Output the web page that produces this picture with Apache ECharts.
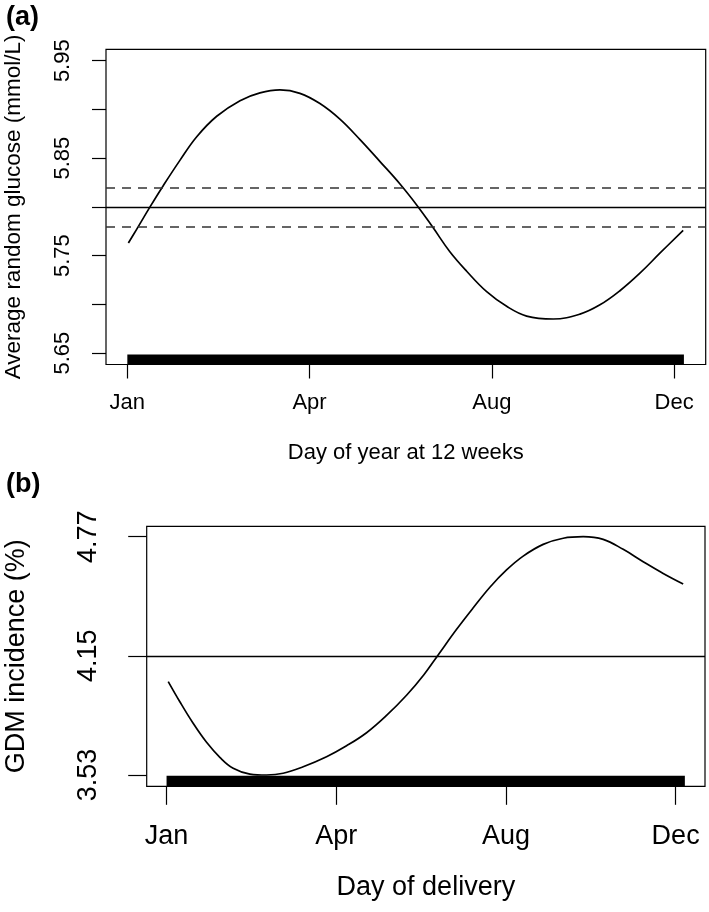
<!DOCTYPE html>
<html>
  <head>
    <meta charset="utf-8">
    <title>Seasonal glucose and GDM</title>
    <style>
      html, body { margin: 0; padding: 0; background: #fff; }
      #chart { width: 709px; height: 912px; }
    </style>
  </head>
  <body>
    <div id="chart"></div>
    <script src="https://cdn.jsdelivr.net/npm/echarts@6/dist/echarts.min.js"></script>
    <script>
      // month ticks (day of year) shared by both panels
      var monthTicks = [1, 122.3, 243.7, 365];
      var monthLabels = ['Jan', 'Apr', 'Aug', 'Dec'];

      // (a) average random glucose by day of year at 12 weeks
      var glucoseDays = [1.7, 7.2, 16.1, 25.0, 36.1, 47.2, 60.5, 76.0, 89.3, 102.6, 115.9, 129.2, 142.5, 155.9, 169.2,
        182.5, 194.6, 204.6, 215.7, 226.9, 240.2, 253.5, 266.8, 284.5, 302.3, 315.6, 328.9, 342.2, 355.5, 371.0];
      var glucoseValues = [5.763, 5.777, 5.800, 5.822, 5.848, 5.872, 5.893, 5.909, 5.917, 5.920, 5.9165, 5.906, 5.890, 5.869, 5.8465,
        5.8235, 5.800, 5.7785, 5.754, 5.734, 5.713, 5.698, 5.688, 5.685, 5.690, 5.6995, 5.714, 5.732, 5.7525, 5.776];
      var glucoseMean = 5.80;
      var glucoseBand = [5.778, 5.822];
      var glucoseTicks = [5.65, 5.70, 5.75, 5.80, 5.85, 5.90, 5.95];
      var glucoseLabels = [5.65, 5.75, 5.85, 5.95];
      var glucoseRug = [1, 371.5];

      // (b) GDM incidence by day of delivery
      var gdmDays = [2.2, 10.5, 20.0, 29.6, 39.1, 48.6, 60.6, 72.5, 84.4, 98.7, 115.4, 129.7, 144.0, 158.3, 172.6,
        185.0, 195.2, 208.4, 220.3, 232.2, 244.1, 256.0, 270.3, 284.6, 298.9, 313.2, 327.5, 341.8, 356.1, 370.4];
      var gdmValues = [4.016, 3.911, 3.799, 3.700, 3.622, 3.565, 3.535, 3.530, 3.539, 3.573, 3.625, 3.682, 3.750, 3.840, 3.945,
        4.052, 4.155, 4.288, 4.400, 4.507, 4.597, 4.669, 4.730, 4.762, 4.770, 4.756, 4.704, 4.640, 4.579, 4.524];
      var gdmMean = 4.15;
      var gdmTicks = [3.53, 4.15, 4.77];
      var gdmRug = [1, 371.6];

      var FONT = '"Liberation Sans", Arial, Helvetica, sans-serif';

      function pairs(xs, ys) {
        return xs.map(function(x, i) { return [x, ys[i]]; });
      }

      function monthName(v) {
        var best = 0;
        monthTicks.forEach(function(t, i) {
          if (Math.abs(t - v) < Math.abs(monthTicks[best] - v)) best = i;
        });
        return monthLabels[best];
      }

      function xAxisFor(gridIndex, name, size, tickLen, margin, gap) {
        return {
          type: 'value', gridIndex: gridIndex, min: -13.2, max: 386,
          name: name, nameLocation: 'middle', nameGap: gap,
          nameTextStyle: { fontFamily: FONT, fontSize: size, color: '#000' },
          axisLine: { show: false, onZero: false },
          splitLine: { show: false },
          axisTick: { show: true, length: tickLen, customValues: monthTicks,
            lineStyle: { color: '#000', width: 1.2 } },
          axisLabel: { customValues: monthTicks, formatter: monthName, margin: margin,
            fontFamily: FONT, fontSize: size, color: '#000' }
        };
      }

      var chart = echarts.init(document.getElementById('chart'), null, { renderer: 'canvas' });

      chart.setOption({
        backgroundColor: '#fff',
        animation: false,
        title: [
          { text: '(a)', left: 1, top: -1, textStyle: { fontFamily: FONT, fontSize: 27, fontWeight: 'bold', color: '#000' } },
          { text: '(b)', left: 1, top: 466, textStyle: { fontFamily: FONT, fontSize: 27, fontWeight: 'bold', color: '#000' } }
        ],
        grid: [
          { left: 106, top: 49.3, width: 599.7, height: 315.2, outerBoundsMode: 'none', containLabel: false,
            show: true, borderColor: '#000', borderWidth: 1.2 },
          { left: 146.7, top: 526.3, width: 558.3, height: 260, outerBoundsMode: 'none', containLabel: false,
            show: true, borderColor: '#000', borderWidth: 1.2 }
        ],
        xAxis: [
          xAxisFor(0, 'Day of year at 12 weeks', 22, 14, 27, 77),
          xAxisFor(1, 'Day of delivery', 27, 18.5, 37, 88)
        ],
        yAxis: [
          {
            type: 'value', gridIndex: 0, min: 5.6383, max: 5.9617,
            name: 'Average random glucose (mmol/L)', nameLocation: 'middle', nameGap: 81, nameRotate: 90,
            nameTextStyle: { fontFamily: FONT, fontSize: 22.5, color: '#000' },
            axisLine: { show: false, onZero: false },
            splitLine: { show: false },
            axisTick: { show: true, length: 14, customValues: glucoseTicks, lineStyle: { color: '#000', width: 1.2 } },
            axisLabel: { customValues: glucoseLabels, rotate: 90, margin: 32,
              formatter: function(v) { return v.toFixed(2); },
              fontFamily: FONT, fontSize: 22, color: '#000' }
          },
          {
            type: 'value', gridIndex: 1, min: 3.4712, max: 4.824,
            name: 'GDM incidence (%)', nameLocation: 'middle', nameGap: 117, nameRotate: 90,
            nameTextStyle: { fontFamily: FONT, fontSize: 27, color: '#000' },
            axisLine: { show: false, onZero: false },
            splitLine: { show: false },
            axisTick: { show: true, length: 18.5, customValues: gdmTicks, lineStyle: { color: '#000', width: 1.2 } },
            axisLabel: { customValues: gdmTicks, rotate: 90, margin: 45,
              formatter: function(v) { return v.toFixed(2); },
              fontFamily: FONT, fontSize: 27, color: '#000' }
          }
        ],
        series: [
          {
            type: 'line', xAxisIndex: 0, yAxisIndex: 0,
            data: pairs(glucoseDays, glucoseValues),
            smooth: 0.4, symbol: 'none',
            lineStyle: { color: '#000', width: 1.7 },
            markLine: {
              silent: true, symbol: 'none', label: { show: false },
              data: [
                { yAxis: glucoseMean, lineStyle: { color: '#000', width: 1.3, type: 'solid' } },
                { yAxis: glucoseBand[0], lineStyle: { color: '#333', width: 1.5, type: [9, 7] } },
                { yAxis: glucoseBand[1], lineStyle: { color: '#333', width: 1.5, type: [9, 7] } }
              ]
            },
            markArea: {
              silent: true,
              itemStyle: { color: '#000' },
              data: [[{ coord: [glucoseRug[0], 5.6383] }, { coord: [glucoseRug[1], 5.6485] }]]
            }
          },
          {
            type: 'line', xAxisIndex: 1, yAxisIndex: 1,
            data: pairs(gdmDays, gdmValues),
            smooth: 0.4, symbol: 'none',
            lineStyle: { color: '#000', width: 1.7 },
            markLine: {
              silent: true, symbol: 'none', label: { show: false },
              data: [{ yAxis: gdmMean, lineStyle: { color: '#000', width: 1.3, type: 'solid' } }]
            },
            markArea: {
              silent: true,
              itemStyle: { color: '#000' },
              data: [[{ coord: [gdmRug[0], 3.4712] }, { coord: [gdmRug[1], 3.5265] }]]
            }
          }
        ]
      });
    </script>
  </body>
</html>
